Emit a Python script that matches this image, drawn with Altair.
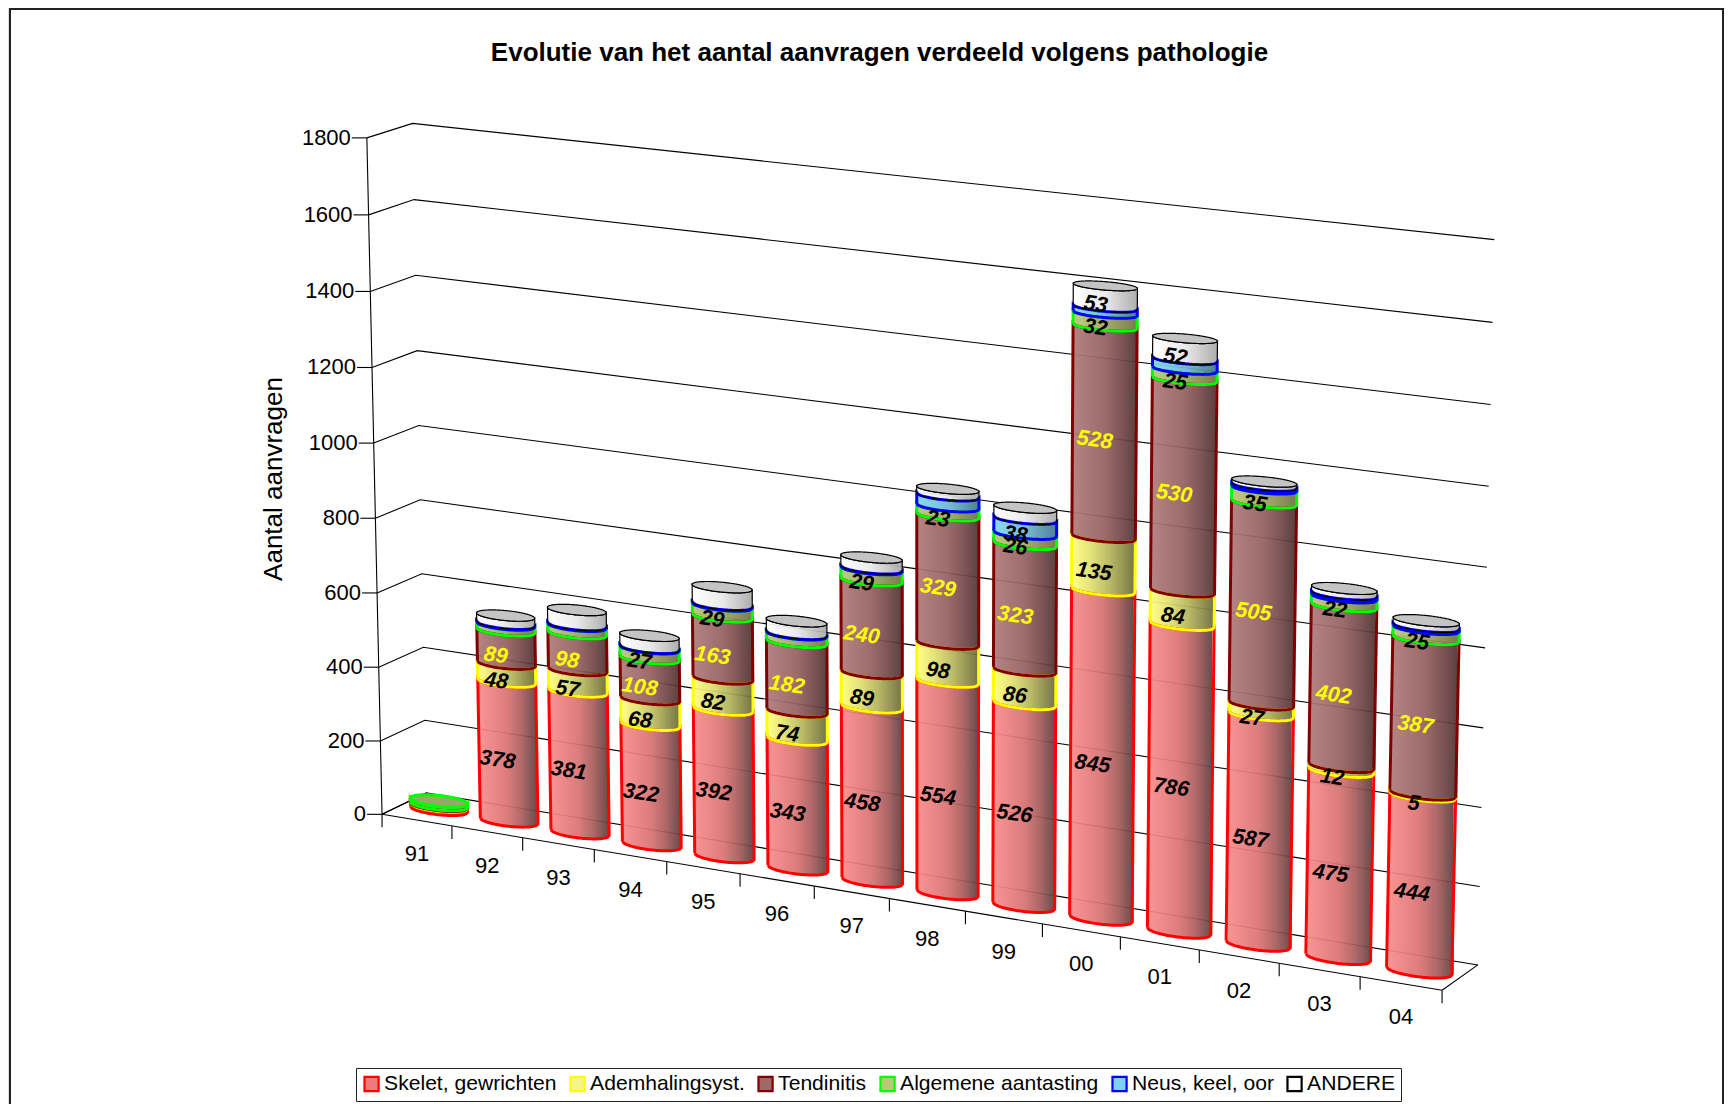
import altair as alt
import numpy as np
import pandas as pd

# ---------- chart data ----------
YEARS = ["91","92","93","94","95","96","97","98","99","00","01","02","03","04"]
SERIES = ["Skelet, gewrichten","Ademhalingsyst.","Tendinitis","Algemene aantasting","Neus, keel, oor","ANDERE"]
SKELET  = [9,378,381,322,392,343,458,554,526,845,786,587,475,444]
ADEM    = [2,48,57,68,82,74,89,98,86,135,84,27,12,5]
TENDI   = [2,89,98,108,163,182,240,329,323,528,530,505,402,387]
ALGEM   = [10,16,20,27,29,20,29,23,26,32,25,35,22,25]
NEUS    = [0,2,2,1,2,1,2,28,38,15,24,7,7,5]
ANDERE  = [0,22,40,32,46,33,28,17,28,53,52,10,14,14]
VALUES  = [SKELET,ADEM,TENDI,ALGEM,NEUS,ANDERE]
Y_TICKS = [0,200,400,600,800,1000,1200,1400,1600,1800]
TITLE = "Evolutie van het aantal aanvragen verdeeld volgens pathologie"
Y_TITLE = "Aantal aanvragen"

# ---------- styles ----------
STROKES = ["#ff0000","#ffff00","#800000","#00ff00","#0000ff","#000000"]
SWATCH  = ["#f07a7a","#f4f48c","#a06868","#b8c878","#80d0f0","#ffffff"]
STOPS = [
    [(0,"#fb8c8c"),(.5,"#d87272"),(.75,"#a85c5c"),(1,"#5f3f3f")],
    [(0,"#ffff80"),(.3,"#e0e070"),(.6,"#b4b45c"),(1,"#6a6a36")],
    [(0,"#b07a7a"),(.5,"#966060"),(.8,"#704646"),(1,"#4f3232")],
    [(0,"#b8c878"),(.5,"#a0a860"),(1,"#707040")],
    [(0,"#80d8f0"),(.5,"#70b8d0"),(1,"#407890")],
    [(0,"#ffffff"),(.5,"#e8e8e8"),(1,"#a8a8a8")],
]
FONT = "Liberation Sans"
RU, RW = 0.39, 0.20   # cylinder radius along the category and depth axes

# ---------- 3D view of the box, fitted on the corners of the drawn box ----------
CAL = [
 (0,0,0,383.3,814),(1,0,0,451.7,826.7),(2,0,0,522.3,837.7),(3,0,0,594,849.3),(4,0,0,666.7,861.7),
 (12,0,0,1279.3,963.3),(13,0,0,1360,976.7),(14,0,0,1442.3,990),
 (0,200,0,380,740.7),(0,400,0,378.7,667.3),(0,600,0,377,592.7),(0,1400,0,370.7,291.7),(0,1600,0,368.3,214.7),(0,1800,0,366.7,138),
 (0,200,1,424.3,720.3),(0,400,1,423.3,647.3),(0,600,1,422.3,574),(0,1400,1,415.7,275.3),(0,1600,1,414,199.3),(0,1800,1,412.7,123.3),
 (14,0,1,1478.3,964.3),(14,200,1,1479.5,886.7),(14,400,1,1481,807.7),(14,600,1,1483,728.3),(14,1000,1,1487,567),
 (14,1400,1,1491,404.5),(14,1800,1,1494,239.8),
]
A, b = [], []
for u,v,w,sx,sy in CAL:
    v = v/1000
    A.append([u,v,w,1,0,0,0,0,-sx*u,-sx*v,-sx*w]); b.append(sx)
    A.append([0,0,0,0,u,v,w,1,-sy*u,-sy*v,-sy*w]); b.append(sy)
h = np.linalg.lstsq(np.array(A,float),np.array(b,float),rcond=None)[0]
def proj(u,v,w):
    u,v,w = np.asarray(u,float),np.asarray(v,float)/1000,np.asarray(w,float)
    d = h[8]*u+h[9]*v+h[10]*w+1
    return (h[0]*u+h[1]*v+h[2]*w+h[3])/d,(h[4]*u+h[5]*v+h[6]*w+h[7])/d

def ellipse(c,v):
    th = np.linspace(0,2*np.pi,181)[:-1]
    return proj(c+RU*np.cos(th),np.full_like(th,v),0.5+RW*np.sin(th))

def arcs(c,v):
    """upper and lower screen arcs of a level, on a shared 0..1 parameter"""
    x,y = ellipse(c,v)
    il,ir = int(np.argmin(x)),int(np.argmax(x))
    n = len(x)
    a = [(il+k)%n for k in range(((ir-il)%n)+1)]
    bb = [(il-k)%n for k in range(((il-ir)%n)+1)]
    t = np.linspace(0,1,41)
    gx = x[il]+t*(x[ir]-x[il])
    ya = np.interp(gx,x[a],y[a]); yb = np.interp(gx,x[bb],y[bb])
    lo,up = (ya,yb) if ya.mean()>yb.mean() else (yb,ya)
    return gx,up,lo

# ---------- build tables ----------
fills,outlines,cap_lines,caps,labels,pts = [],[],[],[],[],[]
for i,yr in enumerate(YEARS):
    c = i+0.5; base = 0; top_s = 0
    for s,name in enumerate(SERIES):
        val = VALUES[s][i]
        if val == 0: continue
        top_s = s
        g0,_,lo0 = arcs(c,base); g1,_,lo1 = arcs(c,base+val)
        key = f"{yr}-{s}"
        for xa,xb,ya,yb in zip(g0,g1,lo1,lo0):
            fills.append(dict(k=key,s=s,x=float((xa+xb)/2),y=float(ya),y2=float(yb)))
        xs = list(g0)+list(g1[::-1])+[g0[0]]
        ys = list(lo0)+list(lo1[::-1])+[lo0[0]]
        for o,(xx,yy) in enumerate(zip(xs,ys)):
            outlines.append(dict(k=key,s=s,o=o,x=float(xx),y=float(yy),col=STROKES[s],w=1.2 if s==5 else 3))
        mx,my = proj(c,base+val/2,0.5-RW)
        i_min = {3:22,4:30,5:50}.get(s,0)
        if i>0 and val>=i_min:
            labels.append(dict(x=float(mx),y=float(my),t=str(val),col="#ffff00" if s==2 else "#000000"))
        base += val
    gx,up,lo = arcs(c,base)
    for xx,yu,yl in zip(gx,up,lo):
        caps.append(dict(k=yr,x=float(xx),y=float(yu),y2=float(yl),fill="#c4c4c4" if top_s==5 else "#98a868"))
    x_,y_ = ellipse(c,base)
    for o,(xx,yy) in enumerate(zip(list(x_)+[x_[0]],list(y_)+[y_[0]])):
        cap_lines.append(dict(k=yr+"-cap",o=o,x=float(xx),y=float(yy),
                              col="#000000" if top_s==5 else STROKES[top_s],w=1.2 if top_s==5 else 3))
    for name in SERIES:
        pts.append(dict(x=float(proj(c,0,0.5)[0]),y=float(proj(c,0,0.5)[1]),series=name))

frame_lines,wall_lines = [],[]
def add(rows,key,points):
    for o,(x,y) in enumerate(points):
        rows.append(dict(k=key,o=o,x=float(x),y=float(y)))
for v in Y_TICKS:
    add(wall_lines,f"g{v}",[proj(0,v,0),proj(0,v,1),proj(14,v,1)])
    fx,fy = proj(0,v,0)
    add(wall_lines,f"t{v}",[(fx-15,fy),(fx,fy)])
add(wall_lines,"axis",[proj(0,1800,0),proj(0,0,0),(proj(0,0,0)[0],proj(0,0,0)[1]+13)])
add(wall_lines,"front",[proj(0,0,0),proj(14,0,0)])
add(wall_lines,"left",[proj(0,0,0),proj(0,0,1)])
add(wall_lines,"right",[proj(14,0,0),proj(14,0,1)])
for k in range(1,15):
    fx,fy = proj(k,0,0)
    add(wall_lines,f"c{k}",[(fx,fy),(fx,fy+13)])
add(frame_lines,"frame",[(10,1104),(10,9),(1723,9),(1723,1104)])

ytext = [dict(x=float(proj(0,v,0)[0])-16,y=float(proj(0,v,0)[1]),t=str(v)) for v in Y_TICKS]
xtext = [dict(x=float(proj(i+.5,0,0)[0]),y=float(proj(i+.5,0,0)[1])+34,t=yr) for i,yr in enumerate(YEARS)]

# ---------- chart ----------
W,H = 1717,1096
X = alt.X("x:Q",scale=alt.Scale(domain=[8,8+W],nice=False,zero=False),axis=None)
Y = alt.Y("y:Q",scale=alt.Scale(domain=[8+H,8],nice=False,zero=False),axis=None)

def line_layer(rows,color,width):
    return alt.Chart(pd.DataFrame(rows)).mark_line(color=color,strokeWidth=width,interpolate="linear").encode(
        x=X,y=Y,detail="k:N",order="o:Q")

def outline_layer(rows):
    return alt.Chart(pd.DataFrame(rows)).mark_line(interpolate="linear").encode(
        x=X,y=Y,detail="k:N",order="o:Q",
        stroke=alt.Stroke("col:N",scale=None),strokeWidth=alt.StrokeWidth("w:Q",scale=None))

layers = [line_layer(frame_lines,"#222222",2), line_layer(wall_lines,"#000000",1.1)]

fdf = pd.DataFrame(fills)
for s in range(6):
    grad = alt.Gradient(gradient="linear",x1=0,x2=1,y1=0,y2=0,
                        stops=[alt.GradientStop(offset=o,color=c) for o,c in STOPS[s]])
    layers.append(alt.Chart(fdf[fdf.s==s]).mark_area(color=grad,opacity=0.93,interpolate="linear",orient="vertical").encode(
        x=X,y=Y,y2="y2:Q",detail="k:N"))

layers.append(outline_layer(outlines))
layers.append(alt.Chart(pd.DataFrame(caps)).mark_area(interpolate="linear",orient="vertical").encode(
    x=X,y=Y,y2="y2:Q",detail="k:N",fill=alt.Fill("fill:N",scale=None)))
layers.append(outline_layer(cap_lines))

legend = alt.Legend(orient="none",legendX=348,legendY=1060,direction="horizontal",columns=6,title=None,
    symbolType="square",symbolSize=200,symbolStrokeWidth=2.2,labelFont=FONT,labelFontSize=21.1,labelColor="#000000",
    fillColor="#ffffff",strokeColor="#222222",padding=5,columnPadding=9,labelOffset=2,labelLimit=400)
layers.append(alt.Chart(pd.DataFrame(pts)).mark_point(filled=True,size=0,opacity=1).encode(
    x=X,y=Y,
    fill=alt.Fill("series:N",sort=SERIES,scale=alt.Scale(domain=SERIES,range=SWATCH),legend=legend),
    stroke=alt.Stroke("series:N",sort=SERIES,scale=alt.Scale(domain=SERIES,range=STROKES),legend=legend)))

layers.append(alt.Chart(pd.DataFrame(labels)).mark_text(font=FONT,fontSize=21.5,fontWeight="bold",fontStyle="italic",
    angle=8,dx=-1,dy=5,baseline="middle",align="center").encode(x=X,y=Y,text="t:N",color=alt.Color("col:N",scale=None)))
layers.append(alt.Chart(pd.DataFrame(ytext)).mark_text(font=FONT,fontSize=22,align="right",baseline="middle",color="#000000").encode(x=X,y=Y,text="t:N"))
layers.append(alt.Chart(pd.DataFrame(xtext)).mark_text(font=FONT,fontSize=22,align="center",baseline="middle",color="#000000").encode(x=X,y=Y,text="t:N"))
layers.append(alt.Chart(pd.DataFrame([dict(x=274,y=479,t=Y_TITLE)])).mark_text(font=FONT,fontSize=26,angle=270,align="center",baseline="middle",color="#000000").encode(x=X,y=Y,text="t:N"))

chart = alt.layer(*layers).properties(
    width=W,height=H,padding=0,autosize=alt.AutoSizeParams(type="none"),
    title=alt.TitleParams(TITLE,font=FONT,fontSize=26,fontWeight="bold",color="#000000",anchor="middle",
                          frame="group",dx=13,offset=-74,orient="top",baseline="middle"),
).configure_view(stroke=None).configure(background="white")

chart.save("out.html",embed_options={"renderer":"svg","actions":False})
